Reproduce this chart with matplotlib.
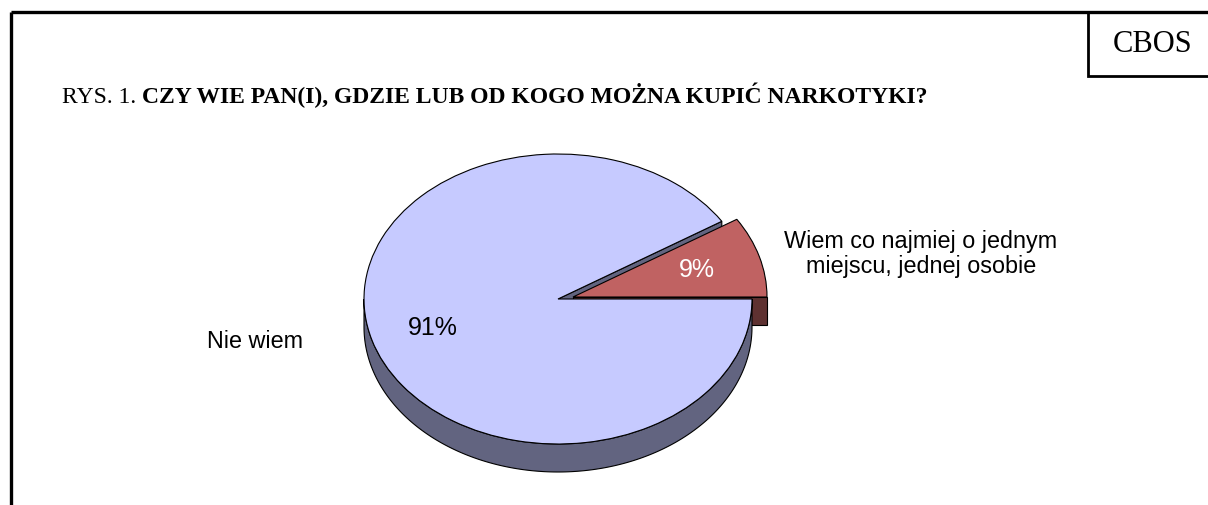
#!/usr/bin/env python3
import numpy as np
import matplotlib
matplotlib.use("Agg")
import matplotlib.pyplot as plt
from matplotlib.patches import Wedge, Polygon, Rectangle
from matplotlib.transforms import Affine2D


CATEGORIES = ["Wiem co najmiej o jednym\nmiejscu, jednej osobie", "Nie wiem"]
VALUES = [9, 91]
PCT_LABELS = ["9%", "91%"]

TITLE_PREFIX = "RYS. 1. "
TITLE_BOLD = "CZY WIE PAN(I), GDZIE LUB OD KOGO MOŻNA KUPIĆ NARKOTYKI?"

W, H = 1208, 506
CX, CY = 558, 300          # pie centre (pixels)
RX, RY = 194, 145          # ellipse radii of top face
DEPTH = 28
EXPLODE = (15, -2)         # offset of the small slice

TOP = {"Nie wiem": "#C6CAFF", "Wiem": "#C06262"}
SIDE = {"Nie wiem": "#626480", "Wiem": "#5E3131"}


def ell(theta_deg, dx=0, dy=0, depth=0):
    t = np.radians(theta_deg)
    return np.column_stack([CX + dx + RX * np.cos(t), CY + dy - RY * np.sin(t) + depth])


def main():
    plt.rcParams["font.family"] = ["Liberation Sans", "DejaVu Sans"]
    fig = plt.figure(figsize=(W / 100, H / 100), dpi=100)
    ax = fig.add_axes([0, 0, 1, 1])
    ax.set_xlim(0, W)
    ax.set_ylim(H, 0)
    ax.axis("off")

    # frame + CBOS box
    ax.plot([11, 11], [13, H + 5], color="black", lw=2.4, solid_capstyle="butt")
    ax.plot([11, W + 5], [13, 13], color="black", lw=2.4, solid_capstyle="butt")
    ax.add_patch(Rectangle((1088, 13), 140, 64, fill=False, ec="black", lw=2.0))
    ax.text(1153, 44, "CBOS", family=["Liberation Serif"], fontsize=22,
            ha="center", va="center")

    t1 = ax.text(62, 103, TITLE_PREFIX, family=["Liberation Serif"], fontsize=17,
                 ha="left", va="baseline")
    ax.annotate(TITLE_BOLD, xy=(1, 0), xycoords=t1, family=["Liberation Serif"],
                fontsize=17, fontweight="bold", ha="left", va="bottom")

    # slice angles from values
    total = sum(VALUES)
    small_a = 360 * VALUES[0] / total
    ex, ey = EXPLODE
    lw = 0.8

    # blue cut face at boundary angle
    p_top = ell([small_a])[0]
    face = np.array([[CX, CY], p_top, p_top + [0, DEPTH], [CX, CY + DEPTH]])
    ax.add_patch(Polygon(face, closed=True, fc=SIDE["Nie wiem"], ec="black", lw=lw))

    # red cut face at angle 0
    rp = ell([0], ex, ey)[0]
    face = np.array([[CX + ex, CY + ey], rp, rp + [0, DEPTH], [CX + ex, CY + ey + DEPTH]])
    ax.add_patch(Polygon(face, closed=True, fc=SIDE["Wiem"], ec="black", lw=lw))

    # red top face
    tr_red = Affine2D().scale(RX, -RY).translate(CX + ex, CY + ey) + ax.transData
    ax.add_patch(Wedge((0, 0), 1, 0, small_a, transform=tr_red,
                       fc=TOP["Wiem"], ec="black", lw=lw))

    # blue outer wall (front half)
    angs = np.linspace(180, 360, 200)
    wall = np.vstack([ell(angs), ell(angs[::-1], depth=DEPTH)])
    ax.add_patch(Polygon(wall, closed=True, fc=SIDE["Nie wiem"], ec="black", lw=lw))

    # blue top face
    tr_blue = Affine2D().scale(RX, -RY).translate(CX, CY) + ax.transData
    ax.add_patch(Wedge((0, 0), 1, small_a, 360, transform=tr_blue,
                       fc=TOP["Nie wiem"], ec="black", lw=lw))

    # labels
    ax.text(697, 270, PCT_LABELS[0], fontsize=18, color="white", ha="center", va="center")
    ax.text(433, 328, PCT_LABELS[1], fontsize=18, color="black", ha="center", va="center")
    ax.text(921, 254, CATEGORIES[0], fontsize=16.8, ha="center", va="center",
            linespacing=1.1)
    ax.text(255, 341, CATEGORIES[1], fontsize=16.8, ha="center", va="center")

    fig.savefig("out.png", dpi=100, facecolor="white")
    plt.close(fig)


if __name__ == "__main__":
    main()
